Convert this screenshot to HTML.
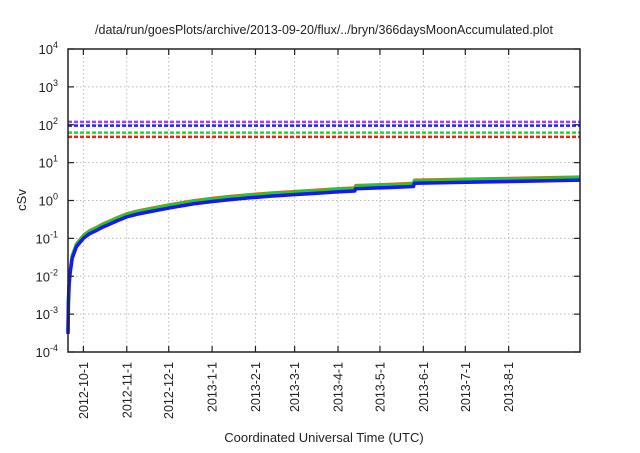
<!DOCTYPE html>
<html><head><meta charset="utf-8"><style>
body{margin:0;background:#fff}
svg text{font-family:"Liberation Sans",sans-serif;fill:#222}
</style></head><body>
<svg width="640" height="448" viewBox="0 0 640 448" xmlns="http://www.w3.org/2000/svg">
<text x="324" y="34" text-anchor="middle" font-size="12.5">/data/run/goesPlots/archive/2013-09-20/flux/../bryn/366daysMoonAccumulated.plot</text>
<g id="grid"></g>
<g id="hlines"></g>
<g id="series"></g>
<rect x="68" y="49" width="512" height="303" fill="none" stroke="#222" stroke-width="1.5"/>
<g id="axes"></g>
<text transform="translate(26,200) rotate(-90)" text-anchor="middle" font-size="13">cSv</text>
<text x="324" y="442" text-anchor="middle" font-size="13">Coordinated Universal Time (UTC)</text>
</svg>
<script>
const xTickLabels=["2012-10-1","2012-11-1","2012-12-1","2013-1-1","2013-2-1","2013-3-1","2013-4-1","2013-5-1","2013-6-1","2013-7-1","2013-8-1"];
const xTickDays=[11,42,72,103,134,162,193,223,254,284,315];
const yTickExps=[-4,-3,-2,-1,0,1,2,3,4];
const thresholdValues=[119,95,62,48];
const thresholdColors=["#a040ff","#2020ff","#20dd20","#ee2020"];
const days=[0,0.3,0.8,1.5,3,6,11,15,20,25,30,35,42,50,60,73,90,104,115,130,145,163,175,194,205,205.5,230,247,247.5,280,320,366];
const blueVals=[0.0003,0.002,0.006,0.012,0.03,0.06,0.1,0.13,0.16,0.2,0.24,0.29,0.37,0.44,0.52,0.64,0.82,0.95,1.05,1.18,1.3,1.44,1.53,1.7,1.78,2.05,2.2,2.35,2.85,3.0,3.2,3.45];
const greenFactor=1.16, redFactor=1.26;
const X0=68,X1=580,Y0=49,Y1=352,DMAX=366;
const sx=d=>X0+(d/DMAX)*(X1-X0);
const sy=v=>Y0+(4-Math.log10(v))/8*(Y1-Y0);
const NS="http://www.w3.org/2000/svg";
function mk(t,a,p){const e=document.createElementNS(NS,t);for(const k in a)e.setAttribute(k,a[k]);p.appendChild(e);return e;}
const grid=document.getElementById('grid'),axes=document.getElementById('axes');
xTickDays.forEach((d,i)=>{const x=sx(d);
 const g=mk('line',{x1:x,x2:x,y1:Y0,y2:Y1,stroke:'#bbb','stroke-dasharray':'1.5,2.5','stroke-width':1},grid);
 
 const t=mk('line',{x1:x,x2:x,y1:Y1,y2:Y1-6,stroke:'#222','stroke-width':1.2},axes);
 
 const t2=mk('line',{x1:x,x2:x,y1:Y0,y2:Y0+6,stroke:'#222','stroke-width':1.2},axes);
 
 const l=mk('text',{transform:`translate(${x+4.5},362) rotate(-90)`,'text-anchor':'end','font-size':12.5},axes);
 l.textContent=xTickLabels[i];
 });
yTickExps.forEach(e=>{const y=sy(Math.pow(10,e));
 if(e>-4&&e<4){const g=mk('line',{x1:X0,x2:X1,y1:y,y2:y,stroke:'#bbb','stroke-dasharray':'1.5,2.5','stroke-width':1},grid);
 }
 const t=mk('line',{x1:X0,x2:X0+6,y1:y,y2:y,stroke:'#222','stroke-width':1.2},axes);
 
 const t2=mk('line',{x1:X1,x2:X1-6,y1:y,y2:y,stroke:'#222','stroke-width':1.2},axes);
 
 const l=mk('text',{x:58,y:y+5,'text-anchor':'end','font-size':13},axes);
 
 l.textContent='10';const s=mk('tspan',{dy:-6,'font-size':9},l);s.textContent=String(e);});
const hl=document.getElementById('hlines');
thresholdValues.forEach((v,i)=>{const y=sy(v);
 const e=mk('line',{x1:X0,x2:X1,y1:y,y2:y,stroke:thresholdColors[i],'stroke-width':2.5,'stroke-dasharray':'4,2'},hl);
 });
const ser=document.getElementById('series');
function path(f){return days.map((d,i)=>(i?'L':'M')+sx(d).toFixed(2)+','+sy(blueVals[i]*f).toFixed(2)).join('');}
[[redFactor,'#e06030',2],[greenFactor,'#20cc20',3.5],[1,'#1515ff',3.5]].forEach(([f,c,w])=>{
 const p=mk('path',{d:path(f),fill:'none',stroke:c,'stroke-width':w,'stroke-linejoin':'round'},ser);
 });
</script>
</body></html>
